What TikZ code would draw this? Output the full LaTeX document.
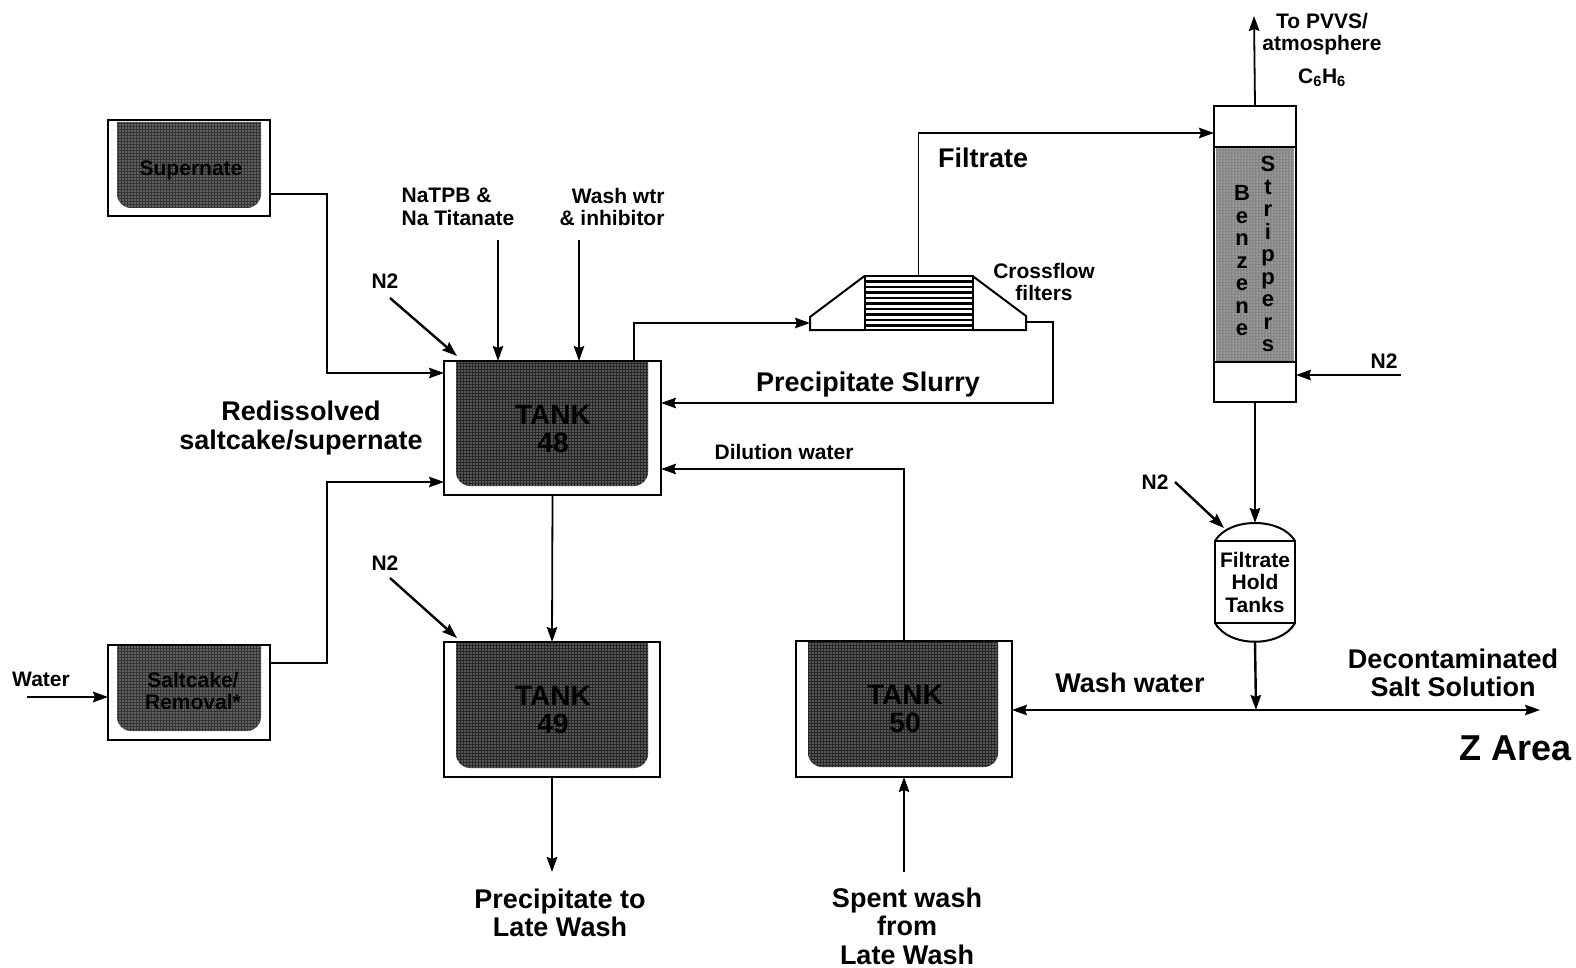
\documentclass[tikz,border=0pt]{standalone}
\usepackage{fontspec}
\setmainfont{Liberation Sans}
\usepackage{tikz}
\usetikzlibrary{calc}
\usetikzlibrary{arrows.meta}
\usetikzlibrary{patterns.meta}
\newcommand{\liquid}[5]{\fill[#5] (#1,#3) [rounded corners=14pt] -- (#1,#4) -- (#2,#4) [sharp corners] -- (#2,#3) -- cycle;
	\fill[pattern={Dots[distance=3pt,radius=0.55pt]},pattern color=white] (#1,#3) [rounded corners=14pt] -- (#1,#4) -- (#2,#4) [sharp corners] -- (#2,#3) -- cycle;}

\begin{document}
\begin{tikzpicture}[x=1pt,y=-1pt,>={Stealth[length=15pt,width=10.5pt,inset=2pt]},line join=miter,
		vessel/.style={rectangle,draw=black,line width=2pt,inner sep=0pt,outer sep=0pt},
		flow/.style={line width=1.8pt},
		feed/.style={line width=2.4pt},
		tagsmall/.style={inner sep=0pt,align=center,font=\bfseries\fontsize{21}{22.5}\selectfont},
		tagbig/.style={inner sep=0pt,align=center,font=\bfseries\fontsize{27}{28.5}\selectfont},
		tagtank/.style={inner sep=0pt,align=center,text=black,font=\bfseries\fontsize{28}{28}\selectfont},
		letters/.style={inner sep=0pt,align=center,font=\bfseries\fontsize{22}{22.5}\selectfont}]
		\useasboundingbox (0,0) rectangle (1576,968);
		
		% tank contents first
		\liquid{117}{261}{122}{208}{black!80}
		\liquid{117}{261}{646}{731}{black!80}
		\liquid{456}{648}{362}{486}{black!85}
		\liquid{456}{648}{643}{768}{black!85}
		\liquid{808}{998}{642}{767}{black!85}
		\fill[black!48] (1216,147) rectangle (1294,362);
		\fill[pattern={Dots[distance=3pt,radius=0.5pt]},pattern color=white] (1216,147) rectangle (1294,362);
		
		% tanks
		\node[vessel,minimum width=162pt,minimum height=96pt] (supernate) at (189,168) {};
		\node[vessel,minimum width=162pt,minimum height=95pt] (saltcake) at (189,692) {};
		\node[vessel,minimum width=217pt,minimum height=134pt] (t48) at (552.5,428) {};
		\node[vessel,minimum width=216pt,minimum height=135pt] (t49) at (552,709.5) {};
		\node[vessel,minimum width=216pt,minimum height=136pt] (t50) at (904,709) {};
		
		\node[tagsmall,text=black] (supernatetext) at (191,170) {Supernate};
		\node[tagsmall,text=black] (saltcaketext) at (193,691) {Saltcake/\\Removal*};
		\node[tagtank] (t48text) at (553,429) {TANK\\48};
		\node[tagtank] (t49text) at (553,710) {TANK\\49};
		\node[tagtank] (t50text) at (905,709) {TANK\\50};
		
		% crossflow filter
		\node[vessel,minimum width=108pt,minimum height=54pt] (filter) at (918.5,303) {};
		\foreach \ypos in {281.5,287,292.5,298,303.5,309,314.5,320,325.5}
			\draw[line width=2.2pt] (filter.west |- 0,\ypos) -- (filter.east |- 0,\ypos);
		\draw[vessel] (filter.north west) -- (810,317) -- (810,330) -- (filter.south west);
		\draw[vessel] (filter.north east) -- (1026,316) -- (1026,330) -- (filter.south east);
		
		% stripper column
		\node[vessel,minimum width=82pt,minimum height=296pt] (stripper) at (1255,254) {};
		\draw[vessel] (stripper.west |- 0,147) -- (stripper.east |- 0,147);
		\draw[vessel] (stripper.west |- 0,362) -- (stripper.east |- 0,362);
		\node[letters] (benzene) at (1242,261) {B\\e\\n\\z\\e\\n\\e};
		\node[letters] (strippers) at (1268,254) {S\\t\\r\\i\\p\\p\\e\\r\\s};
		
		% hold tank
		\node[vessel,minimum width=80pt,minimum height=82pt,tagsmall] (hold) at (1255,582) {Filtrate\\Hold\\Tanks};
		\draw[vessel] (hold.north west) .. controls +(14,-24) and +(-14,-24) .. (hold.north east);
		\draw[vessel] (hold.south west) .. controls +(14,25) and +(-14,25) .. (hold.south east);
		
		% free ends and corners
		\coordinate (n2a) at (390,298);
		\coordinate (n2b) at (390,578);
		\coordinate (n2c) at (1175,482);
		\coordinate (n2d) at (1401,375);
		\coordinate (n2aend) at (457,356);
		\coordinate (n2bend) at (457,638);
		\coordinate (n2cend) at (1224,528);
		\coordinate (natpb) at (498,240);
		\coordinate (washwtr) at (579,240);
		\coordinate (pvvs) at (1254,16);
		\coordinate (water) at (27,697);
		\coordinate (zarea) at (1540,710);
		\coordinate (latewash) at (552,872);
		\coordinate (spent) at (904,872);
		\coordinate (split) at (1256,710);
		
		\draw[flow,->] (supernate.east |- 0,194) -| (327,373) -- (t48.west |- 0,373);
		\draw[flow,->] (saltcake.east |- 0,663) -| (327,482) -- (t48.west |- 0,482);
		\draw[flow,->] (634,361) |- (810,323);
		\draw[flow,->] (1026,322) -| (1053,403) -- (t48.east |- 0,403);
		\draw[flow,->] (filter.north) |- (stripper.west |- 0,133);
		\draw[flow,->] (t50.north) |- (t48.east |- 0,469);
		\draw[flow,->] (t48.south) -- (t49.north);
		\draw[feed,->] (t49.south) -- (latewash);
		\draw[feed,->] (spent) -- (t50.south);
		\draw[flow,->] (stripper.north) -- (pvvs);
		\draw[flow,->] (n2d) -- (stripper.east |- 0,375);
		\draw[feed,->] (stripper.south) -- (hold.north |- 0,523);
		\draw[feed,->] (hold.south |- 0,642) -- (split);
		\draw[flow,->] (split) -- (t50.east |- 0,710);
		\draw[flow,->] (split) -- (zarea);
		\draw[feed,->] (water) -- (saltcake.west |- 0,697);
		\draw[feed,->] (n2a) -- (n2aend);
		\draw[feed,->] (n2b) -- (n2bend);
		\draw[feed,->] (n2c) -- (n2cend);
		\draw[flow,->] (natpb) -- (natpb |- t48.north);
		\draw[flow,->] (washwtr) -- (washwtr |- t48.north);
		
		% labels
		\node[tagsmall] (n2atext) at (385,281) {N2};
		\node[tagsmall] (n2btext) at (385,563) {N2};
		\node[tagsmall] (n2ctext) at (1155,482) {N2};
		\node[tagsmall] (n2dtext) at (1384,361) {N2};
		\node[tagsmall,align=left] (natpbtext) at (458,207) {NaTPB \&\\Na Titanate};
		\node[tagsmall,align=right] (washtext) at (612,207) {Wash wtr\\\& inhibitor};
		\node[tagsmall] (crossflowtext) at (1044,282) {Crossflow\\filters};
		\node[tagsmall] (dilutiontext) at (784,452) {Dilution water};
		\node[tagsmall] (watertext) at (41,679) {Water};
		\node[tagsmall] (pvvstext) at (1322,34) {To PVVS/\\atmosphere};
		\node[tagsmall] (benzenegas) at (1322,78) {C\textsubscript{6}H\textsubscript{6}};
		\node[tagbig] (redissolved) at (301,428) {Redissolved\\saltcake/supernate};
		\node[tagbig] (filtratetext) at (983,158) {Filtrate};
		\node[tagbig] (slurrytext) at (868,385) {Precipitate Slurry};
		\node[tagbig] (washwatertext) at (1130,683) {Wash water};
		\node[tagbig] (decontext) at (1453,673) {Decontaminated\\Salt Solution};
		\node[inner sep=0pt,font=\bfseries\fontsize{36}{38}\selectfont] (zareatext) at (1516,748) {Z Area};
		\node[tagbig] (precipitatetext) at (560,913) {Precipitate to\\Late Wash};
		\node[tagbig] (spenttext) at (907,926) {Spent wash\\from\\Late Wash};
\end{tikzpicture}
\end{document}
